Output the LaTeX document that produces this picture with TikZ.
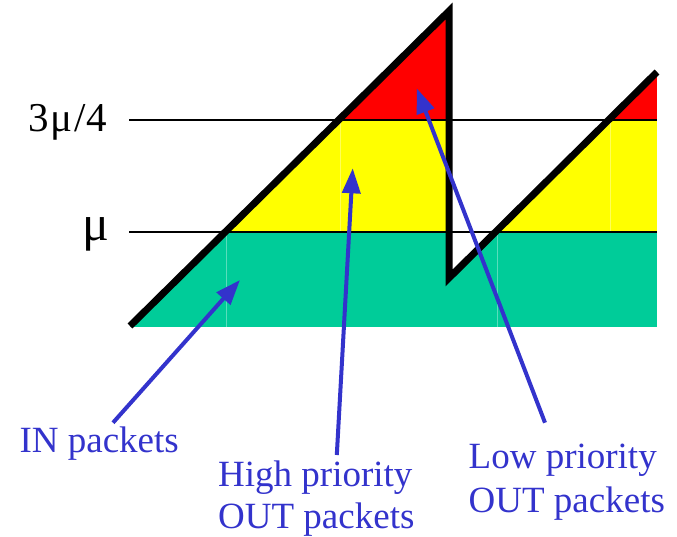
\documentclass[tikz,border=0pt]{standalone}
\usepackage{fontspec}
\setmainfont{Liberation Serif}
\usetikzlibrary{arrows.meta}
\definecolor{grn}{RGB}{0,204,153}
\definecolor{ylw}{RGB}{255,255,0}
\definecolor{rd}{RGB}{255,0,0}
\definecolor{blu}{RGB}{51,51,204}
\begin{document}
\begin{tikzpicture}[x=1pt,y=-1pt,
 saw/.style={line width=7pt, line join=miter},
 level/.style={line width=2pt},
 seam/.style={white, opacity=0.35, line width=0.8pt},
 pointer/.style={blu, line width=4pt, -{Triangle[length=25pt,width=18pt]}},
 lbl/.style={blu, font=\fontsize{37}{44}\selectfont, inner sep=0pt, anchor=base west},
 axislbl/.style={font=\fontsize{41}{48}\selectfont, inner sep=0pt, anchor=base east}]
\useasboundingbox (0,0) rectangle (677,536);
% coloured bands below the sawtooth
\begin{scope}
\clip (130,327) -- (449,11) -- (449,278) -- (657,72) -- (657,327) -- cycle;
\fill[grn] (120,232) rectangle (657,327);
\fill[ylw] (120,120) rectangle (657,232);
\fill[rd] (120,0) rectangle (657,120);
\end{scope}
% faint seams
\draw[seam] (226.7,232) -- (226.7,327);
\draw[seam] (497,232) -- (497,327);
\draw[seam] (340,120) -- (340,232);
\draw[seam] (610,120) -- (610,232);
% threshold lines
\draw[level] (129,120) -- (657,120);
\draw[level] (129,232) -- (657,232);
% sawtooth
\draw[saw] (130,326) -- (449,11) -- (449,278) -- (657,72);
% axis labels
\node[axislbl] (l34) at (107,131.7) {3\hspace{2pt}μ\hspace{2pt}/4};
\node[axislbl, font=\fontsize{50}{60}\selectfont] (lmu) at (110,240) {μ};
% blue labels
\node[lbl] (inlbl) at (19.4,452.7) {IN packets};
\node[lbl] (hpa) at (218,486) {High priority};
\node[lbl] (hpb) at (218,528.3) {OUT packets};
\node[lbl] (lpa) at (468.5,468.3) {Low priority};
\node[lbl] (lpb) at (468.5,512.7) {OUT packets};
% arrow ends
\coordinate (inTail) at (113,422.7);
\coordinate (inTip) at (240,280);
\coordinate (hpTail) at (336.8,455);
\coordinate (hpTip) at (352.7,168.3);
\coordinate (lpTail) at (545,422.7);
\coordinate (lpTip) at (416.7,88.3);
\draw[pointer] (inTail) -- (inTip);
\draw[pointer] (hpTail) -- (hpTip);
\draw[pointer] (lpTail) -- (lpTip);
\end{tikzpicture}
\end{document}
